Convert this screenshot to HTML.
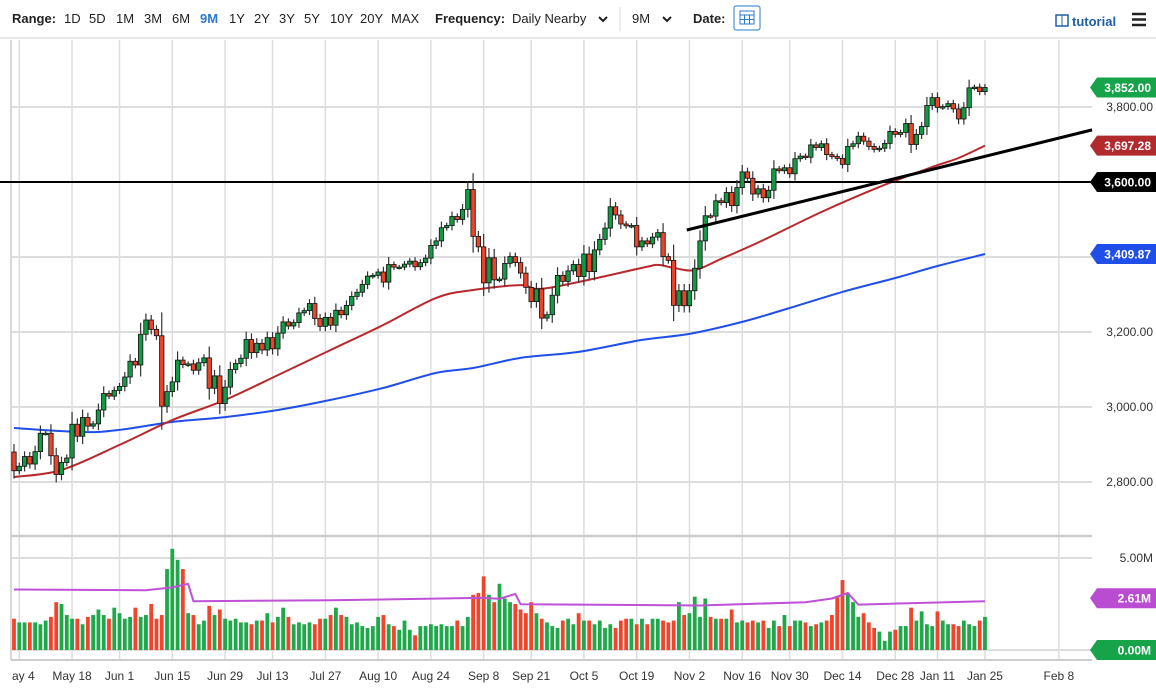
<!DOCTYPE html>
<html><head><meta charset="utf-8">
<style>
html,body{margin:0;padding:0;background:#fff;}
svg{display:block;font-family:"Liberation Sans",sans-serif;}
</style></head>
<body>
<svg id="chart" width="1156" height="695" viewBox="0 0 1156 695" xmlns="http://www.w3.org/2000/svg">
  <g font-size="13" fill="#222">
    <text x="12" y="23" font-weight="bold">Range:</text>
    <text x="64" y="23">1D</text>
    <text x="89" y="23">5D</text>
    <text x="116" y="23">1M</text>
    <text x="144" y="23">3M</text>
    <text x="172" y="23">6M</text>
    <text x="200" y="23" font-weight="bold" fill="#2a7ac8">9M</text>
    <text x="229" y="23">1Y</text>
    <text x="254" y="23">2Y</text>
    <text x="279" y="23">3Y</text>
    <text x="304" y="23">5Y</text>
    <text x="330" y="23">10Y</text>
    <text x="360" y="23">20Y</text>
    <text x="391" y="23">MAX</text>
    <text x="435" y="23" font-weight="bold">Frequency:</text>
    <text x="512" y="23">Daily Nearby</text>
    <path d="M599 17 l4 4 l4 -4" stroke="#222" stroke-width="2" fill="none"/>
    <line x1="620" y1="7" x2="620" y2="31" stroke="#ddd"/>
    <text x="632" y="23">9M</text>
    <path d="M663 17 l4 4 l4 -4" stroke="#222" stroke-width="2" fill="none"/>
    <text x="693" y="23" font-weight="bold">Date:</text>
    <g>
      <rect x="734" y="6" width="26" height="24" fill="#fff" stroke="#2a7ac8" rx="2"/>
      <rect x="740" y="11" width="14" height="13" fill="none" stroke="#2a7ac8"/>
      <line x1="740" y1="15" x2="754" y2="15" stroke="#2a7ac8"/>
      <line x1="744.5" y1="15" x2="744.5" y2="24" stroke="#2a7ac8"/>
      <line x1="749.5" y1="15" x2="749.5" y2="24" stroke="#2a7ac8"/>
      <line x1="740" y1="19.5" x2="754" y2="19.5" stroke="#2a7ac8"/>
    </g>
    <g>
      <rect x="1056" y="15" width="12" height="11" fill="none" stroke="#1f5fa8" stroke-width="1.5"/>
      <line x1="1062" y1="15" x2="1062" y2="26" stroke="#1f5fa8"/>
      <text x="1072" y="26" font-weight="bold" fill="#1f5fa8">tutorial</text>
    </g>
    <g stroke="#222" stroke-width="2.5">
      <line x1="1132" y1="14" x2="1146" y2="14"/><line x1="1132" y1="19.5" x2="1146" y2="19.5"/><line x1="1132" y1="25" x2="1146" y2="25"/>
    </g>
  </g>
  <line x1="0" y1="38" x2="1156" y2="38" stroke="#ddd" stroke-width="1.5"/>
  <g id="grid"></g>
  <g id="vol"></g>
  <g id="price"></g>
  <g id="labels"></g>
</svg>
<script>
// ---- data ----
const closes = [
2830,2842,2868,2848,2881,2930,2930,2870,2820,2852,2864,2954,2922,2972,2949,2955,2992,3036,3029,3044,
3055,3080,3122,3112,3194,3232,3207,3190,3002,3041,3067,3125,3113,3115,3098,3118,3131,3050,3083,3009,3053,3100,
3116,3130,3180,3145,3170,3152,3185,3155,3197,3227,3216,3225,3251,3257,3276,3236,3215,3239,3218,3258,3246,3271,
3295,3306,3327,3349,3351,3360,3333,3380,3373,3373,3381,3389,3374,3385,3397,3431,3443,3478,3484,3508,3500,
3527,3580,3455,3427,3331,3398,3339,3341,3383,3401,3385,3357,3319,3281,3315,3237,3246,3298,3351,3335,3363,
3380,3348,3408,3361,3419,3447,3477,3534,3512,3488,3483,3484,3427,3443,3435,3453,3465,3401,3391,3271,3310,3270,
3310,3370,3443,3510,3509,3550,3545,3572,3537,3585,3627,3610,3568,3582,3558,3578,3635,3630,3638,3622,
3662,3669,3666,3699,3692,3702,3673,3668,3663,3647,3695,3702,3722,3709,3695,3687,3690,3703,3735,3727,3732,3756,
3700,3727,3748,3804,3825,3799,3801,3809,3795,3768,3798,3851,3853,3841,3852];
const firstOpen = 2880;
const volumes = [
1.7,1.5,1.5,1.5,1.5,1.4,1.6,1.8,2.6,2.5,1.9,1.7,1.7,1.4,1.8,1.9,2.2,1.9,1.7,2.3,
2.0,1.7,1.8,2.3,1.8,1.9,2.5,1.7,1.9,4.4,5.5,4.9,4.4,2.0,1.9,1.4,1.6,2.4,1.9,2.2,1.7,1.6,
1.7,1.5,1.5,1.4,1.6,1.6,2.0,1.5,1.8,2.3,1.8,1.4,1.5,1.4,1.5,1.4,1.7,1.7,1.9,2.3,1.9,1.8,
1.4,1.5,1.3,1.2,1.3,1.8,1.9,1.4,1.3,1.1,1.6,1.1,0.8,1.3,1.3,1.4,1.3,1.4,1.3,1.3,1.6,
1.3,1.8,3.0,3.1,4.0,3.0,2.6,3.6,2.8,2.6,2.5,2.2,2.0,2.6,2.0,1.7,1.5,1.3,1.2,1.6,1.7,
1.4,2.0,1.6,1.6,1.4,1.6,1.2,1.4,1.2,1.6,1.7,1.7,1.4,1.7,1.4,1.7,1.7,1.6,1.5,1.6,2.6,1.9,
2.0,2.9,1.8,2.8,1.8,1.7,1.7,1.7,2.2,1.5,1.6,1.5,1.6,1.5,1.6,1.2,1.6,1.3,1.9,1.3,
1.6,1.6,1.5,1.3,1.4,1.5,1.6,1.9,2.9,3.8,3.1,2.6,1.8,2.0,1.5,1.2,1.0,0.5,1.0,1.1,1.3,1.3,
2.3,1.6,2.1,1.4,1.3,2.1,1.6,1.4,1.4,1.3,1.6,1.4,1.3,1.6,1.8];
const ma50Idx = [0,9,20,30,40,50,60,70,80,87,96,101,119,122,125,129,134,142,153,164,174,179,184];
const ma50Val = [2813,2832,2899,2965,3019,3085,3152,3219,3291,3312,3325,3317,3371,3379,3371,3365,3395,3445,3520,3587,3640,3664,3697];
const ma200Idx = [0,13,20,30,40,50,60,70,80,87,96,107,119,128,138,147,157,167,175,184];
const ma200Val = [2944,2933,2939,2960,2973,2992,3019,3051,3091,3104,3131,3147,3179,3195,3227,3264,3307,3344,3376,3408];
const volMaIdx = [0,25,30,33,34,60,88,92,95,96,130,150,155,158,160,184];
const volMaVal = [3.29,3.25,3.4,3.6,2.65,2.7,2.83,2.78,3.05,2.49,2.42,2.6,2.8,3.1,2.47,2.65];
const xLabels = ["ay 4","May 18","Jun 1","Jun 15","Jun 29","Jul 13","Jul 27","Aug 10","Aug 24","Sep 8","Sep 21","Oct 5","Oct 19","Nov 2","Nov 16","Nov 30","Dec 14","Dec 28","Jan 11","Jan 25","Feb 8"];
const xLabelIdx = [1,11,20,30,40,49,59,69,79,89,98,108,118,128,138,147,157,167,175,184,198];
const priceTicks = [3800,3400,3200,3000,2800];
const trendIdx = [127.5,204.3];
const trendVal = [3472,3739];
const hLevel = 3600;

// ---- axes ----
const X0 = 14, STEP = 5.277;
const xs = i => X0 + i*STEP;
const ys = v => 182 - (v-3600)*0.375;
const vy = v => 650 - v*18.4;
const NS = "http://www.w3.org/2000/svg";
function mk(tag, attrs, parent){ const e=document.createElementNS(NS,tag); for(const k in attrs) e.setAttribute(k,attrs[k]); parent.appendChild(e); return e; }
const grid=document.getElementById('grid'), vol=document.getElementById('vol'), price=document.getElementById('price'), labels=document.getElementById('labels');

let g;
g=mk('line',{x1:11,y1:40,x2:11,y2:660,stroke:'#ccc','stroke-width':1.5},grid);
 
xLabelIdx.forEach((ix,k)=>{
  const x=xs(ix);
  const l=mk('line',{x1:x,y1:40,x2:x,y2:660,stroke:'#ddd','stroke-width':1.5},grid);
   
  const t=mk('text',{x:x,y:680,'font-size':12,fill:'#333','text-anchor':k===0?'start':'middle'},labels);
  if(k===0) t.setAttribute('x',12);
  t.textContent=xLabels[k];
   
});
priceTicks.forEach(v=>{
  const l=mk('line',{x1:11,y1:ys(v),x2:1092,y2:ys(v),stroke:'#ddd','stroke-width':2},grid);
   
  const t=mk('text',{x:1153,y:ys(v)+4,'font-size':12,fill:'#333','text-anchor':'end'},labels);
  t.textContent=v.toLocaleString('en-US',{minimumFractionDigits:2});
   
});
[[536,'#ccc',2.5],[vy(5),'#ddd',2],[vy(0),'#ddd',2],[660,'#ccc',2]].forEach(a=>{
  const l=mk('line',{x1:11,y1:a[0],x2:1092,y2:a[0],stroke:a[1],'stroke-width':a[2]},grid);
   
});
let t5=mk('text',{x:1153,y:vy(5)+4,'font-size':12,fill:'#333','text-anchor':'end'},labels);
t5.textContent='5.00M';
 

closes.forEach((c,i)=>{
  const prev = i===0?firstOpen:closes[i-1];
  const up = c>=prev;
  const r=mk('rect',{x:xs(i)-1.9,y:vy(volumes[i]),width:3.8,height:volumes[i]*18.4,fill:up?'#1fa84a':'#f0452b'},vol);
   
});
function poly(idx,vals,fy,color,w,parent,name,smooth){
  const P=idx.map((ix,k)=>[xs(ix),fy(vals[k])]);
  let d='M'+P[0][0].toFixed(1)+' '+P[0][1].toFixed(1);
  for(let k=1;k<P.length;k++){
    if(smooth){
      const p0=P[Math.max(0,k-2)],p1=P[k-1],p2=P[k],p3=P[Math.min(P.length-1,k+1)];
      const c1=[p1[0]+(p2[0]-p0[0])/6,p1[1]+(p2[1]-p0[1])/6];
      const c2=[p2[0]-(p3[0]-p1[0])/6,p2[1]-(p3[1]-p1[1])/6];
      d+=` C${c1[0].toFixed(1)} ${c1[1].toFixed(1)} ${c2[0].toFixed(1)} ${c2[1].toFixed(1)} ${p2[0].toFixed(1)} ${p2[1].toFixed(1)}`;
    } else d+=' L'+P[k][0].toFixed(1)+' '+P[k][1].toFixed(1);
  }
  const p=mk('path',{d:d,fill:'none',stroke:color,'stroke-width':w,'stroke-linejoin':'round'},parent);
   
}
poly(volMaIdx,volMaVal,vy,'#c050d8',2,vol,'volume-moving-average',false);

poly(ma200Idx,ma200Val,ys,'#1f4fe8',2,price,'ma-200-line',true);
poly(ma50Idx,ma50Val,ys,'#b8292e',2,price,'ma-50-line',true);
let hl=mk('line',{x1:0,y1:ys(hLevel),x2:1092,y2:ys(hLevel),stroke:'#000','stroke-width':2},price);
 
closes.forEach((c,i)=>{
  const o = i===0?firstOpen:closes[i-1];
  const hi=Math.max(o,c), lo=Math.min(o,c);
  const wick = 6 + 0.3*(hi-lo);
  const x=xs(i);
  const w=mk('line',{x1:x,y1:ys(hi+wick),x2:x,y2:ys(lo-wick),stroke:'#333','stroke-width':1.2},price);
   
  const top=ys(hi), h=Math.max(1.5,ys(lo)-top);
  const b=mk('rect',{x:x-2.2,y:top,width:4.4,height:h,fill:c>=o?'#139a44':'#e8442a',stroke:'#111','stroke-width':0.8},price);
   
});
let tl=mk('line',{x1:xs(trendIdx[0]),y1:ys(trendVal[0]),x2:xs(trendIdx[1]),y2:ys(trendVal[1]),stroke:'#000','stroke-width':3},price);
 

function tag(y,text,color,name){
  const gg=mk('g',{},labels);
   
  mk('path',{d:`M1090 ${y} L1097 ${y-10} L1156 ${y-10} L1156 ${y+10} L1097 ${y+10} Z`,fill:color},gg);
  const t=mk('text',{x:1151,y:y+4.5,'font-size':12,'font-weight':'bold',fill:'#fff','text-anchor':'end'},gg);
  t.textContent=text;
}
const lastClose = closes[closes.length-1];
tag(ys(lastClose),lastClose.toLocaleString('en-US',{minimumFractionDigits:2}),'#16a34a','last-price-tag');
tag(ys(ma50Val[ma50Val.length-1]),'3,697.28','#b02a2e','ma-50-tag');
tag(ys(hLevel),'3,600.00','#000','level-tag');
tag(ys(ma200Val[ma200Val.length-1]),'3,409.87','#1f4fe8','ma-200-tag');
tag(vy(volMaVal[volMaVal.length-1])-3,'2.61M','#b94cd0','volume-ma-tag');
tag(vy(0),'0.00M','#16a34a','volume-zero-tag');
</script>
</body></html>
